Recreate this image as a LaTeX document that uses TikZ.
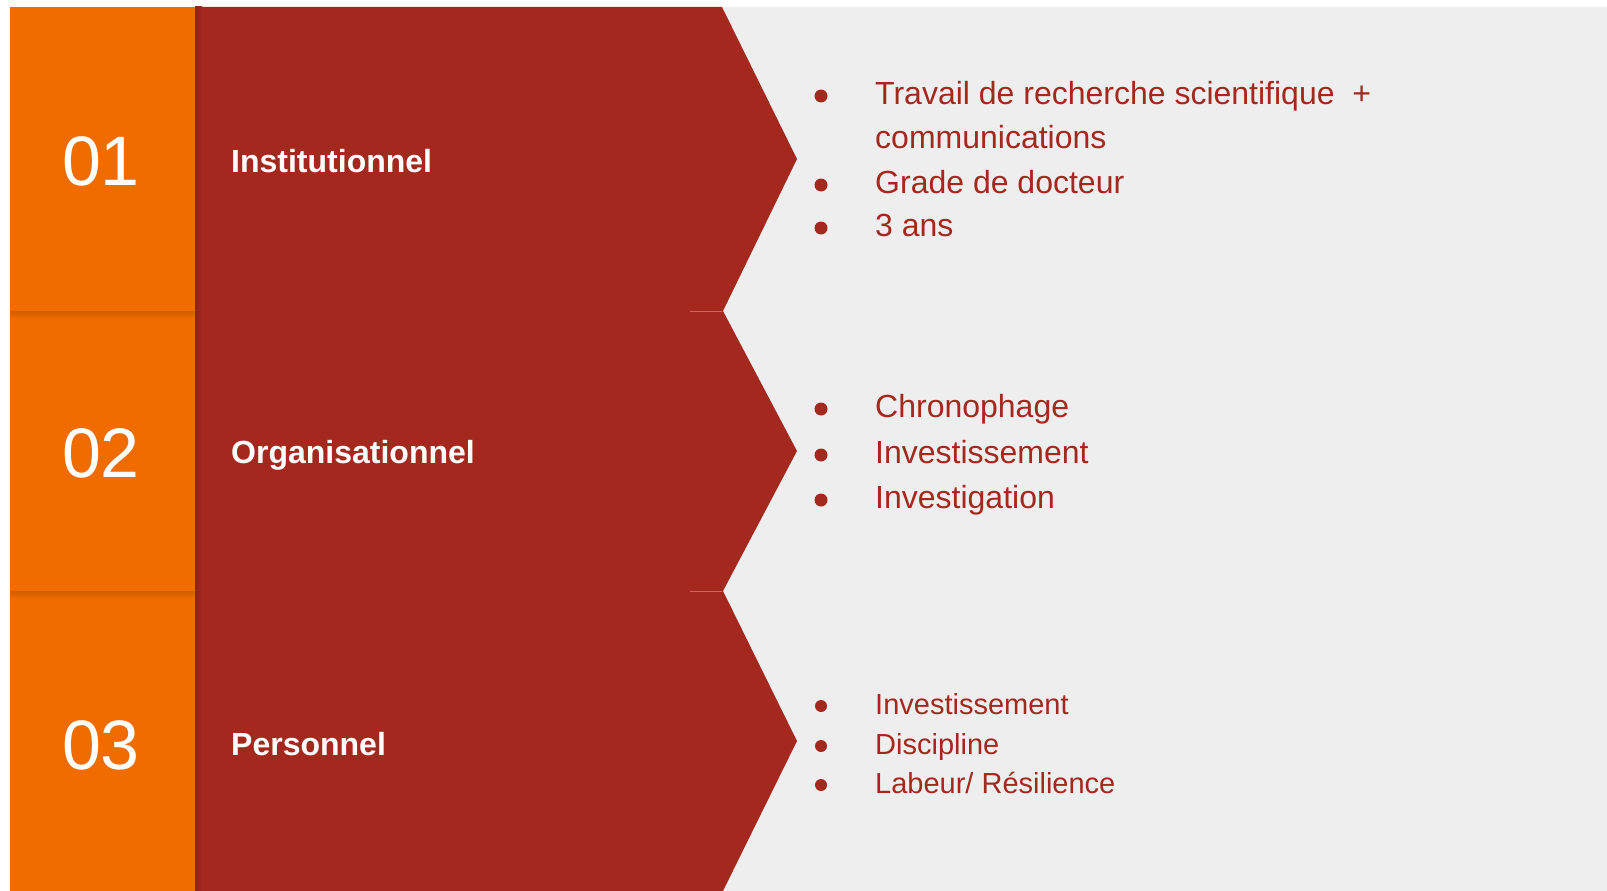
\documentclass[tikz,border=0pt]{standalone}
\usepackage{fontspec}
\setmainfont{Liberation Sans}
\definecolor{orng}{HTML}{F06C00}
\definecolor{orngdark}{HTML}{D25D00}
\definecolor{rd}{HTML}{A5281F}
\definecolor{rddark}{HTML}{8E221B}
\definecolor{rdline}{HTML}{C9695E}
\definecolor{bg}{HTML}{EEEEEE}
\begin{document}
\begin{tikzpicture}[x=1pt,y=-1pt,
  num/.style={text=white, inner sep=0, anchor=base, font=\fontsize{70}{84}\selectfont},
  lab/.style={text=white, inner sep=0, anchor=base west, font=\bfseries\fontsize{32}{38}\selectfont},
  itemA/.style={text=rd, inner sep=0, anchor=base west, font=\fontsize{32}{38}\selectfont},
  itemB/.style={text=rd, inner sep=0, anchor=base west, font=\fontsize{29}{35}\selectfont},
  dotA/.style={circle, fill=rd, inner sep=0, minimum size=13pt},
  dotB/.style={circle, fill=rd, inner sep=0, minimum size=12pt},
  chev/.style={fill=rd}]
\useasboundingbox (0,0) rectangle (1607,891);
\fill[white] (0,0) rectangle (1607,891);
\fill[bg] (10,7) rectangle (1607,891);
% orange column
\fill[orng] (10,7) rectangle (195,891);
\shade[top color=orngdark, bottom color=orng] (10,311) rectangle (195,319);
\shade[top color=orngdark, bottom color=orng] (10,591) rectangle (195,599);
% red chevrons
\fill[chev] (195,7) -- (722,7) -- (797,159) -- (723,311) -- (195,311) -- cycle;
\fill[chev] (195,311) -- (723,311) -- (797,451) -- (723,591) -- (195,591) -- cycle;
\fill[chev] (195,591) -- (723,591) -- (797,741) -- (723,891) -- (195,891) -- cycle;
\shade[left color=rddark, right color=rd] (195,7) rectangle (202,891);
\draw[rdline, line width=0.8pt] (690,311) -- (722,311);
\draw[rdline, line width=0.8pt] (690,591) -- (722,591);
% numbers
\node[num] (n1) at (101,185) {01};
\node[num] (n2) at (101,477) {02};
\node[num] (n3) at (101,769) {03};
% labels
\node[lab] (l1) at (231,172) {Institutionnel};
\node[lab] (l2) at (231,463) {Organisationnel};
\node[lab] (l3) at (231,755) {Personnel};
% row 1 items
\node[dotA] (b11) at (821,96) {};
\node[itemA] (t11) at (875,104) {Travail de recherche scientifique\ \ +};
\node[itemA] (t12) at (875,148) {communications};
\node[dotA] (b12) at (821,185) {};
\node[itemA] (t13) at (875,193) {Grade de docteur};
\node[dotA] (b13) at (821,228) {};
\node[itemA] (t14) at (875,236) {3 ans};
% row 2 items
\node[dotA] (b21) at (821,409) {};
\node[itemA] (t21) at (875,417) {Chronophage};
\node[dotA] (b22) at (821,455) {};
\node[itemA] (t22) at (875,463) {Investissement};
\node[dotA] (b23) at (821,500) {};
\node[itemA] (t23) at (875,508) {Investigation};
% row 3 items
\node[dotB] (b31) at (821,706) {};
\node[itemB] (t31) at (875,714) {Investissement};
\node[dotB] (b32) at (821,746) {};
\node[itemB] (t32) at (875,754) {Discipline};
\node[dotB] (b33) at (821,785) {};
\node[itemB] (t33) at (875,793) {Labeur/ Résilience};
\end{tikzpicture}
\end{document}
